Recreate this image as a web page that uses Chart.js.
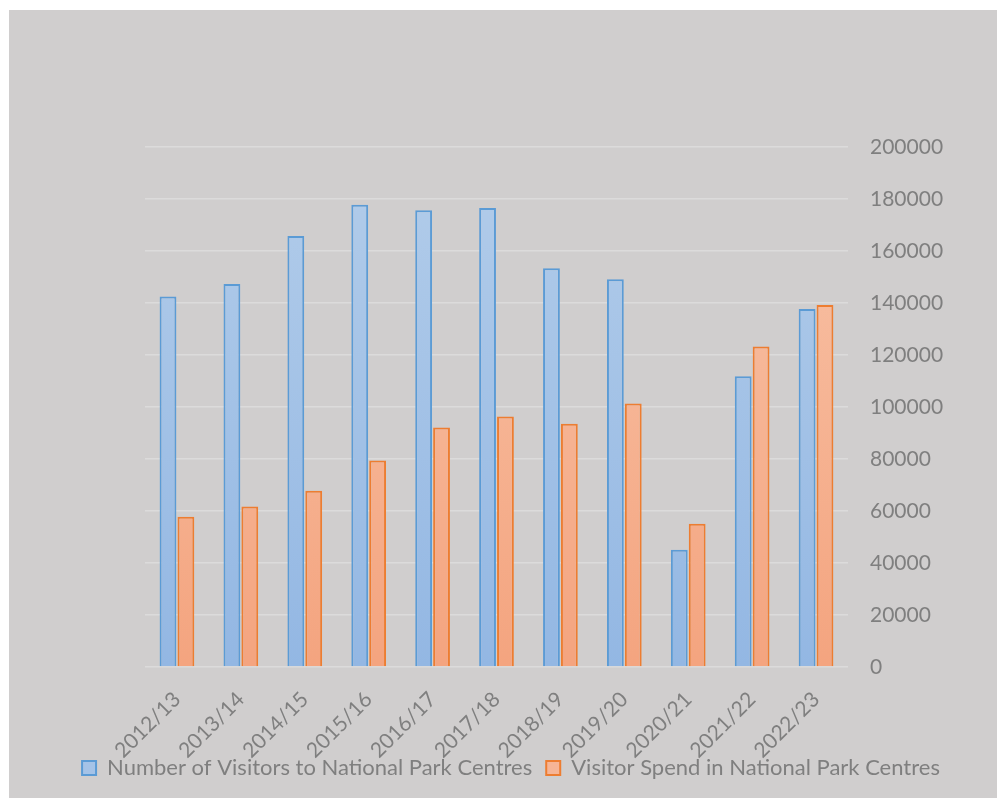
<!DOCTYPE html>
<html>
<head>
<meta charset="utf-8">
<script src="https://cdn.jsdelivr.net/npm/chart.js@4"></script>
<style>
  body { margin: 0; background: #ffffff; }
  #box { position: absolute; left: 9px; top: 10px; width: 988px; height: 788px; background: #d0cece; }
</style>
</head>
<body>
<div id="box"><canvas id="myChart"></canvas></div>
<script>
// data
const years = ['2012/13', '2013/14', '2014/15', '2015/16', '2016/17', '2017/18',
    '2018/19', '2019/20', '2020/21', '2021/22', '2022/23'];
const visitors = [142500, 147300, 165800, 177800, 175700, 176500, 153400, 149100, 45100, 111800, 137700];
const spend = [57800, 61700, 67800, 79400, 92100, 96300, 93600, 101300, 55100, 123300, 139200];
const yTicks = [0, 20000, 40000, 60000, 80000, 100000, 120000, 140000, 160000, 180000, 200000];

const fontName = 'Lato, "Open Sans", sans-serif';
const textGray = '#7f7f7f';

// vertical gradient over the plot area
function grad(top, bottom) {
    return (ctx) => {
        const area = ctx.chart.chartArea;
        if (!area) return bottom;
        const g = ctx.chart.ctx.createLinearGradient(0, area.top, 0, area.bottom);
        g.addColorStop(0, top);
        g.addColorStop(1, bottom);
        return g;
    };
}

const data = {
    labels: years,
    datasets: [{
        label: 'Number of Visitors to National Park Centres',
        data: visitors,
        backgroundColor: grad('#b3cdea', '#93b7e3'),
        borderColor: '#5b9bd5',
        borderWidth: 2,
        legendFill: '#a5c3e7',
        barPercentage: 0.94,
        categoryPercentage: 0.56
    }, {
        label: 'Visitor Spend in National Park Centres',
        data: spend,
        backgroundColor: grad('#f8c4a9', '#f4a47f'),
        borderColor: '#ed7d31',
        borderWidth: 2,
        legendFill: '#f6b596',
        barPercentage: 0.94,
        categoryPercentage: 0.56
    }]
};

const config = {
    type: 'bar',
    data: data,
    options: {
        responsive: true,
        maintainAspectRatio: false,
        animation: false,
        layout: { padding: { left: 16, top: 137, right: 0, bottom: 9 } },
        scales: {
            x: {
                grid: { display: false },
                border: { display: false },
                ticks: {
                    color: textGray,
                    font: { family: fontName, size: 21 },
                    minRotation: 45,
                    maxRotation: 45,
                    padding: 12
                },
                afterFit: (scale) => {
                    scale.height = 76;
                    // let the slanted labels run past the axis box (no clipping)
                    scale._computeLabelArea = () => undefined;
                }
            },
            y: {
                position: 'right',
                min: 0,
                max: 200000,
                grid: { color: '#dcdbdb', lineWidth: 1.5, drawTicks: false },
                border: { display: false },
                afterBuildTicks: (scale) => { scale.ticks = yTicks.map(v => ({ value: v })); },
                ticks: {
                    color: textGray,
                    font: { family: fontName, size: 21 },
                    padding: 22,
                    callback: (v) => String(v)
                },
                afterFit: (scale) => { scale.width = 149; }
            },
            // empty left margin so the legend can use the full width
            blank: {
                position: 'left',
                grid: { display: false },
                border: { display: false },
                ticks: { display: false },
                afterFit: (scale) => { scale.width = 120; }
            }
        },
        plugins: {
            tooltip: { enabled: false },
            legend: {
                position: 'bottom',
                labels: {
                    color: textGray,
                    font: { family: fontName, size: 22 },
                    boxWidth: 14,
                    boxHeight: 14,
                    padding: 14,
                    generateLabels: (chart) => {
                        const items = Chart.defaults.plugins.legend.labels.generateLabels(chart);
                        items.forEach((it) => {
                            it.fillStyle = chart.data.datasets[it.datasetIndex].legendFill;
                        });
                        return items;
                    }
                }
            }
        }
    }
};

const myChart = new Chart(document.getElementById('myChart'), config);
</script>
</body>
</html>
